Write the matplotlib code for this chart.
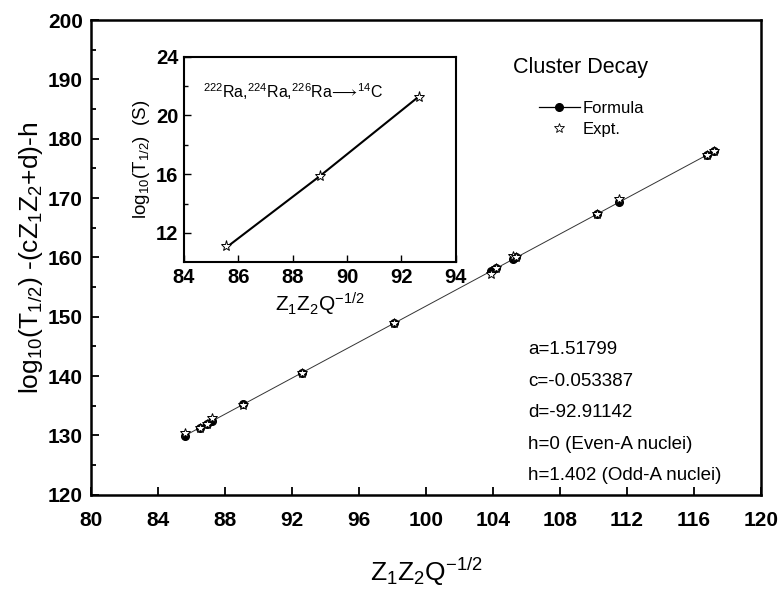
import matplotlib
matplotlib.use("Agg")
import matplotlib.pyplot as plt
from matplotlib.lines import Line2D

plt.rcParams['font.family'] = ['Liberation Sans', 'DejaVu Sans']
plt.rcParams['mathtext.fontset'] = 'custom'
plt.rcParams['mathtext.rm'] = 'Liberation Sans'
plt.rcParams['mathtext.it'] = 'Liberation Sans'
plt.rcParams['mathtext.bf'] = 'Liberation Sans:bold'

# Main panel: Z1Z2Q^-1/2 against reduced half-life
zzq = [85.6, 86.5, 86.9, 87.2, 89.1, 92.6, 98.1, 103.9, 104.2, 105.2, 105.4,
       110.2, 111.5, 116.8, 117.2]
formula_vals = [129.94, 131.31, 131.91, 132.37, 135.25, 140.57, 148.91, 157.72,
                158.17, 159.69, 160.00, 167.28, 169.26, 177.30, 177.91]
expt_vals = [130.4, 131.3, 131.9, 133.0, 135.2, 140.5, 148.9, 157.2,
             158.2, 160.2, 160.0, 167.3, 169.9, 177.3, 177.9]

# Inset: Ra isotopes emitting 14C
ra_zzq = [85.55, 89.02, 92.65]
ra_formula = [11.0, 15.9, 21.3]
ra_expt = [11.09, 15.86, 21.25]

main_xticks = [80, 84, 88, 92, 96, 100, 104, 108, 112, 116, 120]
main_yticks = [120, 130, 140, 150, 160, 170, 180, 190, 200]
inset_xticks = [84, 86, 88, 90, 92, 94]
inset_yticks = [12, 16, 20, 24]

params = ["a=1.51799", "c=-0.053387", "d=-92.91142",
          "h=0 (Even-A nuclei)", "h=1.402 (Odd-A nuclei)"]

fig = plt.figure(figsize=(7.79, 5.89), dpi=100)
ax = fig.add_axes([0.1168, 0.160, 0.8601, 0.806])

ax.plot(zzq, formula_vals, '-', color='#333333', lw=0.7, zorder=2)
ax.plot(zzq, formula_vals, 'o', color='black', ms=5.5, zorder=3)
ax.plot(zzq, expt_vals, '*', mfc='white', mec='black', mew=0.7, ms=7.5, zorder=4)

ax.set_xlim(80, 120)
ax.set_ylim(120, 200)
ax.set_xticks(main_xticks)
ax.set_yticks(main_yticks)
ax.set_yticks([125, 135, 145, 155, 165, 175, 185, 195], minor=True)
ax.tick_params(which='both', direction='in', width=1.3, labelsize=15)
ax.tick_params(axis='x', pad=12)
ax.tick_params(axis='y', pad=6)
ax.tick_params(which='major', length=6)
ax.tick_params(which='minor', length=3.5)
for lab in ax.get_xticklabels() + ax.get_yticklabels():
    lab.set_fontweight('bold')
for sp in ax.spines.values():
    sp.set_linewidth(1.8)

ax.set_xlabel(r'Z$_1$Z$_2$Q$^{-1/2}$', fontsize=19, labelpad=18)
ax.set_ylabel(r'log$_{10}$(T$_{1/2}$) -(cZ$_1$Z$_2$+d)-h', fontsize=19, labelpad=2)

ax.text(0.731, 0.899, 'Cluster Decay', transform=ax.transAxes, fontsize=15.5,
        ha='center', va='center')

handles = [Line2D([], [], color='black', lw=0.9, marker='o', ms=5.5),
           Line2D([], [], color='none', marker='*', mfc='white', mec='black',
                  mew=0.6, ms=7)]
ax.legend(handles, ['Formula', 'Expt.'], loc='upper left',
          bbox_to_anchor=(0.668, 0.829), frameon=False, fontsize=12,
          borderpad=0, borderaxespad=0,
          handlelength=2.5, handletextpad=0.15, labelspacing=0.35)

for i, s in enumerate(params):
    ax.text(0.652, 0.306 - i * 0.0665, s, transform=ax.transAxes,
            fontsize=13.5, ha='left', va='center')

# Inset
ins = fig.add_axes([0.2362, 0.5547, 0.3488, 0.349])
ins.plot(ra_zzq, ra_formula, '-', color='black', lw=1.5, zorder=2)
ins.plot(ra_zzq, ra_expt, '*', mfc='white', mec='black', mew=0.7, ms=8, zorder=3)
ins.set_xlim(84, 94)
ins.set_ylim(10, 24)
ins.set_xticks(inset_xticks)
ins.set_yticks(inset_yticks)
ins.set_yticks([14, 18, 22], minor=True)
ins.tick_params(which='both', direction='in', width=1.0, labelsize=14.5, pad=4)
ins.tick_params(which='major', length=5)
ins.tick_params(which='minor', length=3)
for lab in ins.get_xticklabels() + ins.get_yticklabels():
    lab.set_fontweight('bold')
for sp in ins.spines.values():
    sp.set_linewidth(1.5)
ins.set_xlabel(r'Z$_1$Z$_2$Q$^{-1/2}$', fontsize=15, labelpad=3)
ins.set_ylabel(r'log$_{10}$(T$_{1/2}$)  (S)', fontsize=13.5, labelpad=3)
ins.text(0.07, 0.83,
         r'$^{222}$Ra,$^{224}$Ra,$^{226}$Ra$\!\longrightarrow\!$$^{14}$C',
         transform=ins.transAxes, fontsize=11.5, ha='left', va='center')

fig.savefig('out.png', dpi=100)
